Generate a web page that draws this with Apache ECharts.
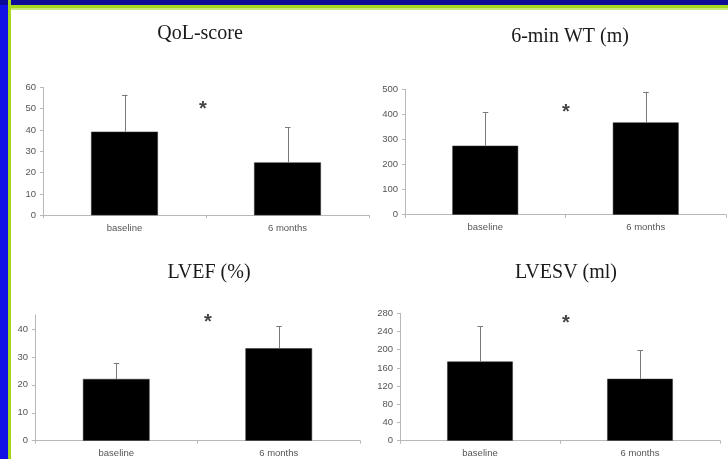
<!DOCTYPE html>
<html><head><meta charset="utf-8">
<script src="https://cdn.jsdelivr.net/npm/echarts@6/dist/echarts.min.js"></script>
<style>html,body{margin:0;padding:0;background:#fff}#c{width:728px;height:459px}</style>
</head><body><div id="c"></div>
<script>
const categories = ['baseline', '6 months'];
const titles = ['QoL-score', '6-min WT (m)', 'LVEF (%)', 'LVESV (ml)'];
const qolMean = [39.2, 24.8];
const qolSD = [17.3, 16.6];
const wtMean = [275, 368];
const wtSD = [133, 122];
const lvefMean = [22.1, 33.1];
const lvefSD = [5.8, 8.0];
const lvesvMean = [174, 136];
const lvesvSD = [77, 63];
const yMax = [60, 500, 45, 280];
const yStep = [10, 100, 10, 40];
const yLabels3 = [0, 10, 20, 30, 40];

const means = [qolMean, wtMean, lvefMean, lvesvMean];
const sds = [qolSD, wtSD, lvefSD, lvesvSD];

const grids = [
  {left: 43, top: 87.3, width: 326, height: 128},
  {left: 405, top: 89.3, width: 321, height: 125.4},
  {left: 35, top: 315, width: 325, height: 125.7},
  {left: 400, top: 313.3, width: 320, height: 127.4}
];
const titlePos = [[200, 34], [570, 37], [209, 273], [566, 273]];
const starPos = [[203, 105], [566, 108], [208, 318], [566, 319]];

const axisColor = '#b8b8b8';
const labelColor = '#555';

function errRender(params, api) {
  const x = api.value(0), m = api.value(1), sd = api.value(2);
  const top = api.coord([x, m + sd]);
  const base = api.coord([x, m]);
  const st = {stroke: '#7a7a7a', lineWidth: 1};
  return {type: 'group', children: [
    {type: 'line', shape: {x1: Math.round(top[0]) + 0.5, y1: top[1], x2: Math.round(base[0]) + 0.5, y2: base[1]}, style: st},
    {type: 'line', shape: {x1: top[0] - 2.5, y1: Math.round(top[1]) + 0.5, x2: top[0] + 3, y2: Math.round(top[1]) + 0.5}, style: st}
  ]};
}

const xAxis = [], yAxis = [], series = [];
for (let i = 0; i < 4; i++) {
  xAxis.push({
    type: 'category', gridIndex: i, data: categories,
    axisLine: {lineStyle: {color: axisColor, width: 1}},
    axisTick: {show: true, length: 3, lineStyle: {color: axisColor}},
    axisLabel: {color: labelColor, fontSize: 9.5, fontFamily: 'Liberation Sans, Arial', margin: 8}
  });
  const ya = {
    type: 'value', gridIndex: i, min: 0, max: yMax[i], interval: yStep[i],
    axisLine: {show: true, lineStyle: {color: axisColor, width: 1}},
    axisTick: {show: true, length: 3, lineStyle: {color: axisColor}},
    splitLine: {show: false},
    axisLabel: {color: labelColor, fontSize: 9.5, fontFamily: 'Liberation Sans, Arial', margin: 7}
  };
  if (i === 2) {
    ya.axisLabel.customValues = yLabels3;
    ya.axisTick.customValues = yLabels3;
  }
  yAxis.push(ya);
  series.push({
    type: 'bar', xAxisIndex: i, yAxisIndex: i, data: means[i], barWidth: '41%',
    itemStyle: {color: '#000', borderColor: '#333', borderWidth: 0.5}, silent: true
  });
  series.push({
    type: 'custom', xAxisIndex: i, yAxisIndex: i, renderItem: errRender, z: 3,
    data: categories.map((c, j) => [j, means[i][j], sds[i][j]]), silent: true
  });
}

const graphic = [
  {type: 'rect', shape: {x: 0, y: 0, width: 728, height: 10}, style: {fill: '#a6d81e'}, silent: true},
  {type: 'rect', shape: {x: 0, y: 8, width: 728, height: 2}, style: {fill: '#c8ea7a'}, silent: true},
  {type: 'rect', shape: {x: 0, y: 0, width: 728, height: 5}, style: {fill: '#0c0c96'}, silent: true},
  {type: 'rect', shape: {x: 0, y: 0, width: 11, height: 459}, style: {fill: '#a6d81e'}, silent: true},
  {type: 'rect', shape: {x: 0, y: 0, width: 8, height: 459}, style: {fill: '#1212e6'}, silent: true},
  {type: 'rect', shape: {x: 0, y: 0, width: 8, height: 5}, style: {fill: '#0c0c96'}, silent: true}
];
titles.forEach((t, i) => {
  graphic.push({type: 'text', x: titlePos[i][0], y: titlePos[i][1],
    style: {text: t, font: '20px "Liberation Serif", "Times New Roman", serif', fill: '#1a1a1a', align: 'center', verticalAlign: 'middle'}, silent: true});
});
starPos.forEach((p) => {
  graphic.push({type: 'text', x: p[0], y: p[1] + 4,
    style: {text: '*', font: 'bold 20px "Liberation Sans", Arial', fill: '#444', align: 'center', verticalAlign: 'middle'}, silent: true});
});

const chart = echarts.init(document.getElementById('c'), null, {renderer: 'canvas'});
chart.setOption({
  animation: false,
  backgroundColor: '#fff',
  grid: grids,
  xAxis: xAxis,
  yAxis: yAxis,
  series: series,
  graphic: graphic
});
</script></body></html>
